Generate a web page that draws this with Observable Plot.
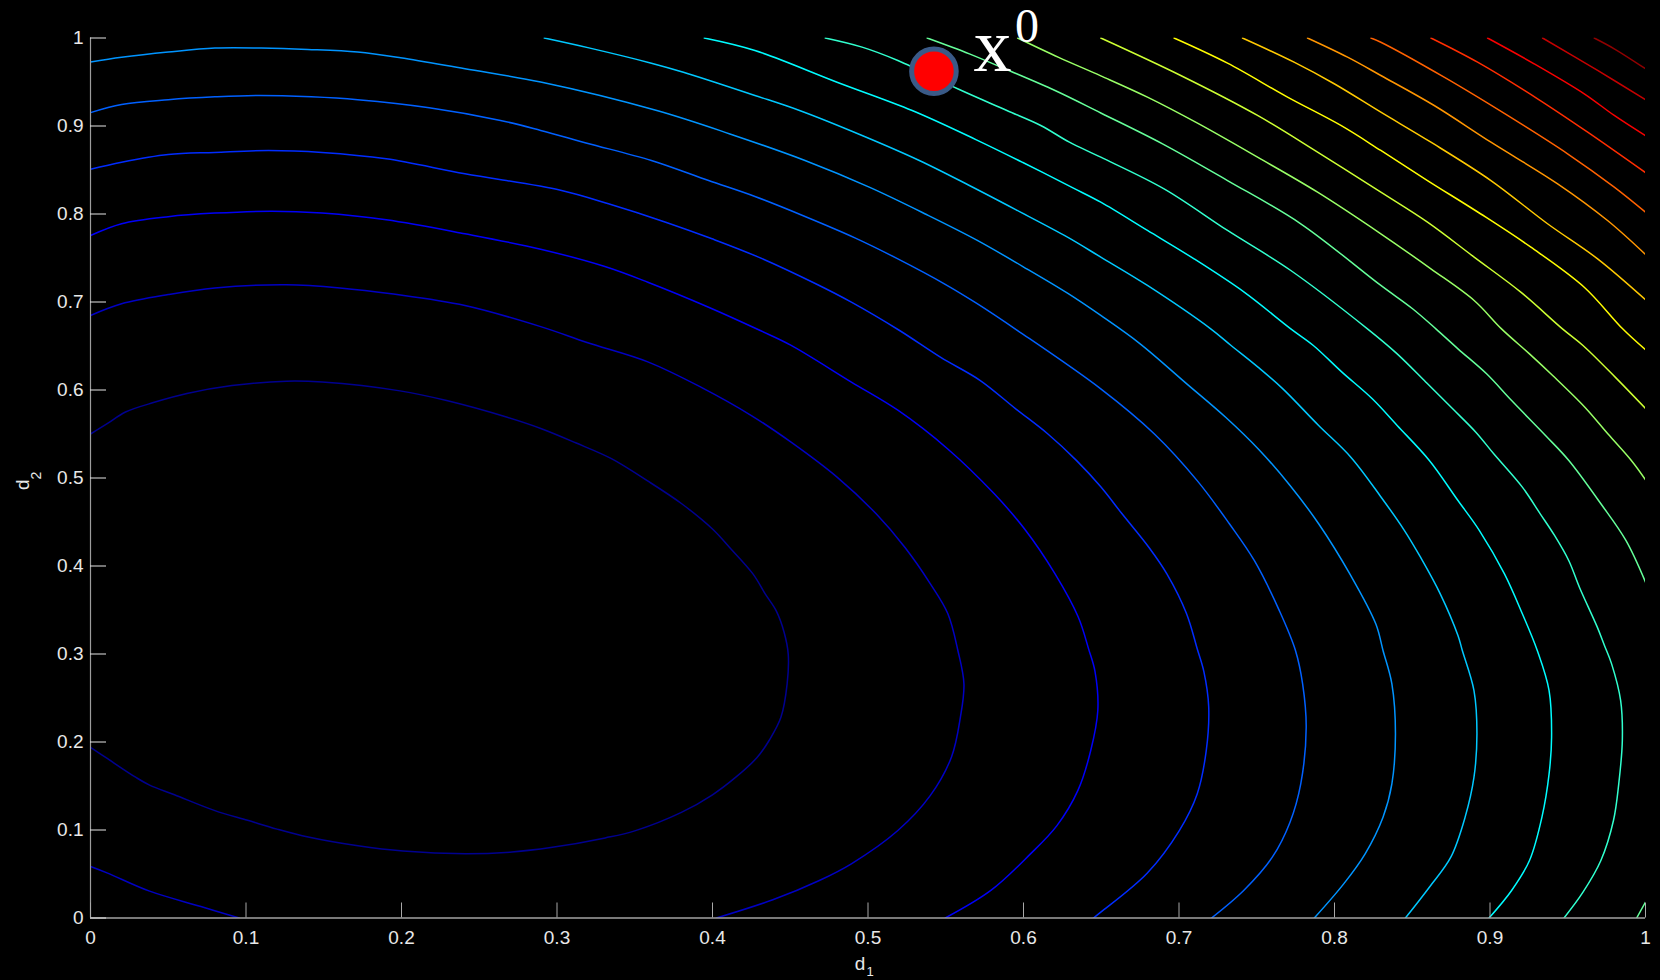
<!DOCTYPE html>
<html>
<head>
<meta charset="utf-8">
<script src="https://cdn.jsdelivr.net/npm/d3@7"></script>
<script src="https://cdn.jsdelivr.net/npm/@observablehq/plot@0.6"></script>
<style>
  html, body { margin: 0; padding: 0; background: #000; }
  #chart { width: 1660px; height: 980px; overflow: hidden; }
</style>
</head>
<body>
<div id="chart"></div>
<script>
// ---- axis ticks ----
const xTicks = [0, 0.1, 0.2, 0.3, 0.4, 0.5, 0.6, 0.7, 0.8, 0.9, 1];
const xTickLabels = ["0", "0.1", "0.2", "0.3", "0.4", "0.5", "0.6", "0.7", "0.8", "0.9", "1"];
const yTicks = [0, 0.1, 0.2, 0.3, 0.4, 0.5, 0.6, 0.7, 0.8, 0.9, 1];
const yTickLabels = ["0", "0.1", "0.2", "0.3", "0.4", "0.5", "0.6", "0.7", "0.8", "0.9", "1"];
const xName = ["d", "1"];
const yName = ["d", "2"];

// ---- starting point x^0 ----
const startPoint = [{d1: 0.5424, d2: 0.9623}];
const startName = ["x", "0"];

// ---- contour lines: [d1, d2] ----
const level01 = [[0,0.194],[0.011,0.181],[0.029,0.160],[0.038,0.151],[0.054,0.140],[0.080,0.122],[0.101,0.111],[0.120,0.101],[0.140,0.092],[0.172,0.082],[0.201,0.076],[0.241,0.073],[0.271,0.075],[0.296,0.080],[0.331,0.091],[0.350,0.099],[0.380,0.120],[0.400,0.140],[0.415,0.160],[0.4285,0.182],[0.4365,0.202],[0.444,0.228],[0.448,0.266],[0.4487,0.300],[0.446,0.325],[0.441,0.349],[0.434,0.368],[0.426,0.391],[0.411,0.421],[0.400,0.442],[0.380,0.471],[0.358,0.497],[0.335,0.522],[0.312,0.540],[0.290,0.556],[0.268,0.569],[0.229,0.588],[0.199,0.599],[0.149,0.609],[0.126,0.610],[0.091,0.605],[0.062,0.596],[0.041,0.586],[0.0225,0.575],[0.011,0.562],[0,0.550]];
const level02a = [[0,0.0585],[0.011,0.051],[0.038,0.0305],[0.071,0.013],[0.0956,0]];
const level02b = [[0.4025,0],[0.4388,0.0207],[0.4687,0.0426],[0.4893,0.0616],[0.5192,0.0994],[0.540,0.139],[0.5537,0.183],[0.5594,0.228],[0.5617,0.266],[0.5578,0.304],[0.5513,0.346],[0.540,0.380],[0.5238,0.421],[0.5054,0.459],[0.4801,0.501],[0.4503,0.541],[0.425,0.571],[0.3928,0.603],[0.3584,0.632],[0.3193,0.654],[0.2895,0.672],[0.2408,0.696],[0.1948,0.709],[0.1604,0.716],[0.1259,0.7195],[0.080,0.716],[0.050,0.7085],[0.020,0.698],[0,0.6847]];
const level03 = [[0.5497,0],[0.579,0.0313],[0.604,0.072],[0.6215,0.105],[0.635,0.145],[0.6432,0.190],[0.6478,0.236],[0.6460,0.280],[0.642,0.305],[0.6352,0.342],[0.6203,0.391],[0.6007,0.442],[0.5812,0.482],[0.5513,0.533],[0.5192,0.577],[0.4893,0.609],[0.4503,0.651],[0.4307,0.6676],[0.3975,0.6941],[0.3584,0.7225],[0.3308,0.7403],[0.2895,0.760],[0.2408,0.7775],[0.1902,0.7934],[0.1489,0.801],[0.1167,0.8032],[0.080,0.801],[0.050,0.797],[0.020,0.789],[0,0.7756]];
const level04 = [[0.645,0],[0.6497,0.0066],[0.6795,0.0509],[0.7002,0.0994],[0.7117,0.141],[0.7175,0.190],[0.7191,0.240],[0.716,0.280],[0.7117,0.306],[0.7048,0.346],[0.6922,0.391],[0.6807,0.421],[0.6635,0.459],[0.6497,0.490],[0.634,0.520],[0.6157,0.550],[0.595,0.5786],[0.572,0.611],[0.5468,0.637],[0.5203,0.6676],[0.4893,0.6998],[0.4664,0.7207],[0.4296,0.751],[0.3997,0.7718],[0.3699,0.7907],[0.3331,0.8116],[0.3023,0.827],[0.2408,0.8457],[0.1902,0.8627],[0.1489,0.870],[0.1144,0.8722],[0.080,0.870],[0.050,0.8676],[0.020,0.8589],[0,0.8508]];
const level05 = [[0.7209,0],[0.7416,0.0313],[0.760,0.0691],[0.7714,0.1089],[0.7783,0.1525],[0.7818,0.2168],[0.7795,0.266],[0.7749,0.304],[0.7646,0.349],[0.7485,0.406],[0.7324,0.448],[0.7117,0.497],[0.6842,0.550],[0.6497,0.6013],[0.5962,0.6676],[0.5697,0.6987],[0.5491,0.7207],[0.5192,0.749],[0.4916,0.7729],[0.4595,0.7972],[0.4273,0.8199],[0.3975,0.838],[0.3607,0.8608],[0.3193,0.8805],[0.2895,0.895],[0.2637,0.9063],[0.2178,0.9207],[0.1718,0.9298],[0.142,0.9331],[0.1075,0.9347],[0.080,0.9331],[0.050,0.9298],[0.020,0.9244],[0,0.9152]];
const level06 = [[0.787,0],[0.8059,0.0388],[0.8197,0.073],[0.8312,0.1146],[0.8369,0.1525],[0.8392,0.2093],[0.8369,0.266],[0.8312,0.304],[0.8266,0.334],[0.8105,0.389],[0.7898,0.448],[0.7714,0.4915],[0.7519,0.5313],[0.730,0.569],[0.705,0.607],[0.675,0.6525],[0.6497,0.6847],[0.6283,0.710],[0.5996,0.7403],[0.5697,0.7706],[0.5376,0.7994],[0.5008,0.8305],[0.4595,0.8608],[0.4112,0.891],[0.3642,0.9176],[0.2895,0.950],[0.2408,0.965],[0.1994,0.9775],[0.1718,0.984],[0.1397,0.987],[0.1098,0.9886],[0.080,0.9886],[0.050,0.984],[0.020,0.978],[0,0.9727]];
const level07 = [[0.8456,0],[0.861,0.035],[0.8748,0.0691],[0.884,0.1146],[0.8897,0.160],[0.8916,0.2093],[0.8897,0.2585],[0.8822,0.304],[0.8794,0.321],[0.868,0.3684],[0.8553,0.410],[0.845,0.4403],[0.830,0.4782],[0.8105,0.5237],[0.7898,0.5597],[0.7668,0.6013],[0.7508,0.626],[0.7335,0.6506],[0.7204,0.6695],[0.6797,0.7188],[0.6497,0.751],[0.6283,0.7737],[0.595,0.805],[0.5652,0.8324],[0.533,0.8608],[0.4962,0.8892],[0.456,0.9176],[0.4273,0.9347],[0.3813,0.9611],[0.3607,0.9714],[0.3205,0.9888],[0.2918,1.0]];
const level08 = [[0.8994,0],[0.9139,0.0313],[0.9254,0.0653],[0.9334,0.1146],[0.938,0.1638],[0.9396,0.2055],[0.938,0.2585],[0.9304,0.304],[0.9208,0.3457],[0.9093,0.391],[0.8932,0.4403],[0.8794,0.4744],[0.861,0.5199],[0.8403,0.5597],[0.8243,0.590],[0.8048,0.6203],[0.7864,0.6506],[0.7719,0.6695],[0.7419,0.7112],[0.7097,0.749],[0.6797,0.7813],[0.6497,0.8134],[0.6318,0.8297],[0.5996,0.8585],[0.5697,0.8843],[0.5284,0.9176],[0.4801,0.9498],[0.4273,0.9858],[0.3947,1.0]];
const level09 = [[0.9476,0],[0.9598,0.0293],[0.9713,0.0653],[0.9794,0.1108],[0.9828,0.1525],[0.9851,0.2017],[0.984,0.2472],[0.9782,0.2888],[0.9736,0.3097],[0.969,0.3305],[0.9575,0.3759],[0.9507,0.406],[0.9415,0.4347],[0.9323,0.4593],[0.9208,0.4896],[0.9024,0.5275],[0.8909,0.552],[0.876,0.5786],[0.8588,0.6089],[0.8403,0.6411],[0.8212,0.6695],[0.7719,0.7358],[0.7312,0.7813],[0.6904,0.8286],[0.6497,0.8646],[0.6295,0.8816],[0.6111,0.9006],[0.5893,0.9176],[0.558,0.942],[0.5192,0.9744],[0.4962,0.9896],[0.4725,1.0]];
const level10a = [[0.538,1.0],[0.5652,0.982],[0.588,0.965],[0.6203,0.9403],[0.6497,0.9148],[0.6894,0.8797],[0.7312,0.838],[0.7783,0.7889],[0.8298,0.7188],[0.8502,0.6923],[0.8652,0.6695],[0.8794,0.6468],[0.8978,0.6184],[0.9139,0.588],[0.9357,0.5483],[0.9507,0.5199],[0.9713,0.4707],[0.9874,0.429],[1.0,0.3816]];
const level10b = [[0.9943,0],[1.0,0.018]];
const level11 = [[0.5962,1.0],[0.6226,0.978],[0.6497,0.957],[0.6797,0.9328],[0.7119,0.9032],[0.7505,0.8646],[0.7891,0.8248],[0.8298,0.7775],[0.862,0.7377],[0.8898,0.7017],[0.9074,0.6695],[0.9254,0.6411],[0.9403,0.6165],[0.961,0.5805],[0.9759,0.550],[0.9909,0.5199],[1.0,0.498]];
const level12 = [[0.6497,1.0],[0.7011,0.9574],[0.7505,0.912],[0.7891,0.8703],[0.8298,0.8248],[0.8598,0.7907],[0.8898,0.751],[0.9198,0.7112],[0.9466,0.6695],[0.9598,0.6506],[0.9805,0.6146],[1.0,0.579]];
const level13 = [[0.6968,1.0],[0.7312,0.9714],[0.7698,0.9328],[0.8041,0.9006],[0.8298,0.8722],[0.8598,0.838],[0.8941,0.800],[0.9263,0.7623],[0.9606,0.7168],[0.9853,0.6695],[1.0,0.6457]];
const level14 = [[0.7408,1.0],[0.774,0.9725],[0.7998,0.948],[0.8298,0.9157],[0.862,0.8816],[0.9006,0.838],[0.937,0.7889],[0.9692,0.749],[1.0,0.7025]];
const level15 = [[0.7826,1.0],[0.8084,0.9782],[0.8298,0.9574],[0.8641,0.9233],[0.9006,0.8816],[0.9435,0.8343],[0.9756,0.7926],[1.0,0.754]];
const level16 = [[0.8234,1.0],[0.8298,0.9952],[0.8705,0.9555],[0.9113,0.912],[0.9499,0.8684],[0.9799,0.8305],[1.0,0.802]];
const level17 = [[0.862,1.0],[0.892,0.9725],[0.9306,0.9309],[0.9628,0.893],[1.0,0.847]];
const level18 = [[0.8984,1.0],[0.9284,0.9707],[0.9606,0.9366],[0.9799,0.912],[1.0,0.889]];
const level19 = [[0.9338,1.0],[0.9692,0.9631],[1.0,0.930]];
const level20 = [[0.967,1.0],[0.9799,0.9877],[1.0,0.965]];

// contour pieces with their level index
const pieceLevels = [1, 2, 2, 3, 4, 5, 6, 7, 8, 9, 10, 10, 11, 12, 13, 14, 15, 16, 17, 18, 19, 20];
const piecePoints = [level01, level02a, level02b, level03, level04, level05, level06, level07, level08, level09,
  level10a, level10b, level11, level12, level13, level14, level15, level16, level17, level18, level19, level20];

// build table
const rows = [];
piecePoints.forEach((pts, p) => {
  pts.forEach(([d1, d2]) => rows.push({piece: p, level: pieceLevels[p], d1, d2}));
});

// jet colormap anchors (MATLAB), mapped onto the level index
const jetT = [0, 0.125, 0.375, 0.625, 0.875, 1];
const jetColors = ["#000080", "#0000ff", "#00ffff", "#ffff00", "#ff0000", "#800000"];
const firstLevelT = 0.015, levelStepT = 0.051;
const jetDomain = jetT.map(t => 1 + (t - firstLevelT) / levelStepT);

const textColor = "#e8e8e8";
const sans = "'Liberation Sans', Arial, Helvetica, sans-serif";
const serif = "'Liberation Serif', 'Times New Roman', serif";

const chart = Plot.plot({
  width: 1660,
  height: 980,
  marginLeft: 90,
  marginRight: 15,
  marginTop: 37.5,
  marginBottom: 62.5,
  x: {domain: [0, 1]},
  y: {domain: [0, 1]},
  color: {type: "linear", domain: jetDomain, range: jetColors, interpolate: "rgb"},
  style: {background: "#000", color: textColor, fontFamily: sans, overflow: "visible"},
  marks: [
    Plot.line(rows, {x: "d1", y: "d2", z: "piece", stroke: "level", strokeWidth: 1.5,
      curve: "catmull-rom", clip: true}),
    Plot.ruleX([0], {stroke: "#9c9c9c", strokeWidth: 1.2}),
    Plot.ruleY([0], {stroke: "#f2f2f2", strokeWidth: 1.2}),
    Plot.axisY({ticks: yTicks, tickSize: -16, tickPadding: 23, stroke: "#e6e6e6", fill: textColor,
      fontSize: 19, label: null, tickFormat: d => yTickLabels[yTicks.indexOf(d)]}),
    Plot.axisX({ticks: xTicks, tickSize: -15, tickPadding: 27.5, stroke: "#a8a8a8", fill: textColor,
      fontSize: 19, label: null, tickFormat: d => xTickLabels[xTicks.indexOf(d)]}),
    // axis names with subscripts
    Plot.text([xName[0]], {text: d => d, frameAnchor: "bottom", dx: -8, dy: 51.5, lineAnchor: "bottom",
      fontSize: 19, fill: textColor}),
    Plot.text([xName[1]], {text: d => d, frameAnchor: "bottom", dx: 2, dy: 58, lineAnchor: "bottom",
      fontSize: 13, fill: textColor}),
    Plot.text([yName[0]], {text: d => d, frameAnchor: "left", rotate: -90, dx: -61.4, dy: 12, lineAnchor: "bottom",
      fontSize: 19, fill: textColor}),
    Plot.text([yName[1]], {text: d => d, frameAnchor: "left", rotate: -90, dx: -50, dy: 1.5, lineAnchor: "bottom",
      fontSize: 14, fill: textColor}),
    // starting point
    Plot.dot(startPoint, {x: "d1", y: "d2", r: 22.3, fill: "#ff0000", stroke: "#3a5a87", strokeWidth: 5}),
    Plot.text(startPoint, {x: "d1", y: "d2", text: () => startName[0], dx: 39.5, dy: 0, textAnchor: "start",
      lineAnchor: "bottom", fontFamily: serif, fontSize: 76, fill: "#ffffff"}),
    Plot.text(startPoint, {x: "d1", y: "d2", text: () => startName[1], dx: 81, dy: -29, textAnchor: "start",
      lineAnchor: "bottom", fontFamily: serif, fontSize: 48, fill: "#ffffff"})
  ]
});

document.getElementById("chart").appendChild(chart);
</script>
</body>
</html>
